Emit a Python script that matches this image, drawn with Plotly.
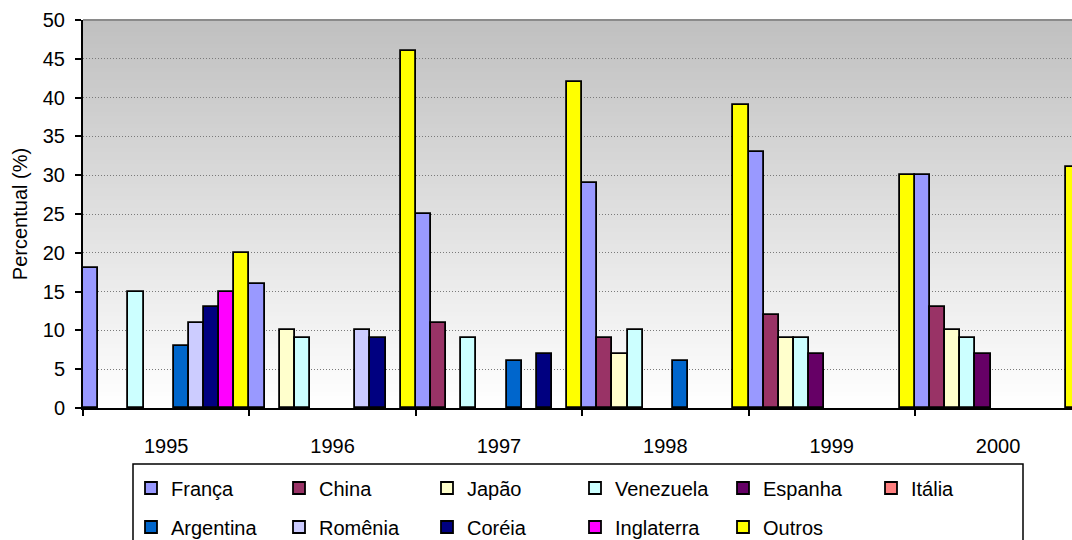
import plotly.graph_objects as go

# ---- data ----
years = ["1995", "1996", "1997", "1998", "1999", "2000"]
franca = [18, 16, 25, 29, 33, 30]
china = [None, None, 11, 9, 12, 13]
japao = [None, 10, None, 7, 9, 10]
venezuela = [15, 9, 9, 10, 9, 9]
espanha = [None, None, None, None, 7, 7]
italia = [None, None, None, None, None, None]
argentina = [8, None, 6, 6, None, None]
romenia = [11, 10, None, None, None, None]
coreia = [13, 9, 7, None, None, None]
inglaterra = [15, None, None, None, None, None]
outros = [20, 46, 42, 39, 30, 31]

series_names = ["França", "China", "Japão", "Venezuela", "Espanha", "Itália",
                "Argentina", "Romênia", "Coréia", "Inglaterra", "Outros"]
series_values = [franca, china, japao, venezuela, espanha, italia,
                 argentina, romenia, coreia, inglaterra, outros]
series_colors = ["#9999FF", "#993366", "#FFFFCC", "#CCFFFF", "#660066", "#FF8080",
                 "#0066CC", "#CCCCFF", "#000080", "#FF00FF", "#FFFF00"]

y_ticks = [0, 5, 10, 15, 20, 25, 30, 35, 40, 45, 50]

# ---- layout geometry (pixels) ----
W, H = 1072, 540
L, R, T, B = 83, 0, 20, 132
PW, PH = W - L - R, H - T - B
FONT = "Liberation Sans, Arial, sans-serif"
FS = 20


def px_x(px):
    return (px - L) / PW


def px_y(py):
    return (H - B - py) / PH


fig = go.Figure()
for i, (name, vals, col) in enumerate(zip(series_names, series_values, series_colors)):
    fig.add_trace(go.Bar(
        x=years, y=vals, name=name,
        marker=dict(color=col, line=dict(color="black", width=1.8)),
        legend="legend" if i < 6 else "legend2",
    ))

# gradient background strips
shapes = []
n_strips = 97
for k in range(n_strips):
    t = k / (n_strips - 1)
    g = int(round(192 + (255 - 192) * t))
    shapes.append(dict(
        type="rect", xref="paper", yref="paper", layer="below",
        x0=0, x1=1, y0=1 - (k + 1) / n_strips, y1=1 - k / n_strips,
        line=dict(width=0), fillcolor=f"rgb({g},{g},{g})",
    ))
# top border of plot area
shapes.append(dict(
    type="line", xref="paper", yref="paper", layer="below",
    x0=0, x1=1, y0=1, y1=1, line=dict(color="#8a8a8a", width=2),
))
# legend box
shapes.append(dict(
    type="rect", xref="paper", yref="paper", layer="above",
    x0=px_x(133), x1=px_x(1023), y0=px_y(464), y1=px_y(570),
    line=dict(color="black", width=1.5), fillcolor="rgba(0,0,0,0)",
))

legend_common = dict(
    orientation="h", xanchor="left", yanchor="middle",
    bgcolor="rgba(0,0,0,0)", borderwidth=0,
    font=dict(family=FONT, size=FS, color="black"),
    entrywidth=103, entrywidthmode="pixels", itemwidth=30,
    traceorder="normal",
)

fig.update_layout(
    width=W, height=H,
    margin=dict(l=L, r=R, t=T, b=B, autoexpand=False),
    paper_bgcolor="white", plot_bgcolor="rgba(0,0,0,0)",
    font=dict(family=FONT, size=FS, color="black"),
    barmode="group", bargap=0, bargroupgap=0,
    shapes=shapes,
    legend=dict(x=px_x(131), y=px_y(488), **legend_common),
    legend2=dict(x=px_x(131), y=px_y(527), **legend_common),
    xaxis=dict(
        type="category", range=[-0.5, 5.444],
        showline=True, linecolor="black", linewidth=2,
        ticks="outside", ticklen=6, tickwidth=1.5, tickcolor="black",
        tickson="boundaries", showgrid=False, ticklabelstandoff=19,
        tickfont=dict(family=FONT, size=FS), fixedrange=True,
    ),
    yaxis=dict(
        range=[0, 50], tickvals=y_ticks, ticktext=[str(v) for v in y_ticks],
        showline=True, linecolor="black", linewidth=2,
        ticks="outside", ticklen=6, tickwidth=1.5, tickcolor="black",
        showgrid=True, gridcolor="#7a7a7a", griddash="1px,2px", gridwidth=1,
        zeroline=False, ticklabelstandoff=6,
        tickfont=dict(family=FONT, size=FS),
        title=dict(text="Percentual (%)", font=dict(family=FONT, size=FS), standoff=10),
        automargin=False, fixedrange=True,
    ),
    showlegend=True,
)

fig.write_html("out.html")
